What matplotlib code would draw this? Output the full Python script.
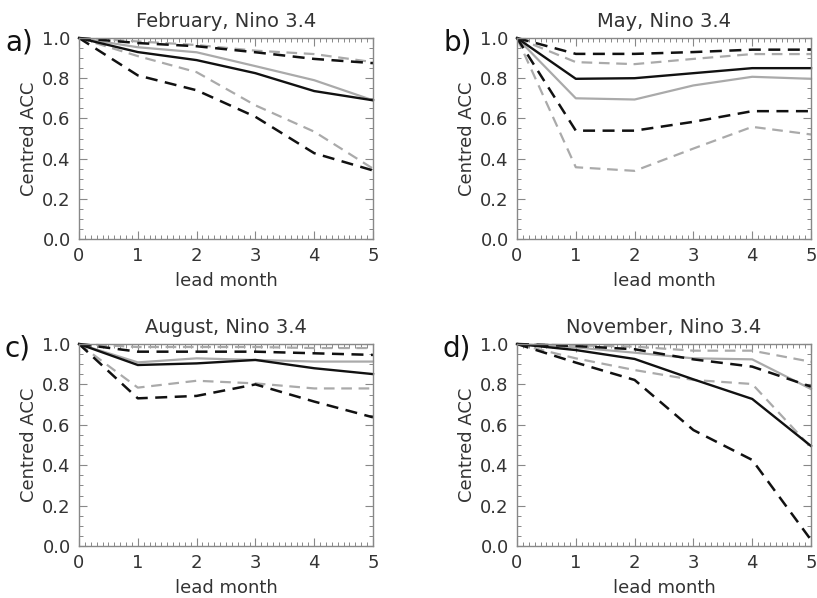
import matplotlib
matplotlib.use("Agg")
import matplotlib.pyplot as plt
from matplotlib.ticker import MultipleLocator

lead = [0, 1, 2, 3, 4, 5]
titles = ["February, Nino 3.4", "May, Nino 3.4", "August, Nino 3.4", "November, Nino 3.4"]
panel_labels = ["a)", "b)", "c)", "d)"]

# February
feb_black = [1.0, 0.93, 0.89, 0.825, 0.736, 0.69]
feb_black_hi = [1.0, 0.975, 0.959, 0.929, 0.896, 0.875]
feb_black_lo = [1.0, 0.814, 0.74, 0.608, 0.427, 0.341]
feb_gray = [1.0, 0.954, 0.929, 0.86, 0.79, 0.69]
feb_gray_hi = [1.0, 0.983, 0.965, 0.937, 0.92, 0.88]
feb_gray_lo = [1.0, 0.91, 0.83, 0.665, 0.534, 0.35]

# May
may_black = [1.0, 0.797, 0.80, 0.825, 0.85, 0.85]
may_black_hi = [1.0, 0.921, 0.921, 0.93, 0.942, 0.942]
may_black_lo = [1.0, 0.539, 0.539, 0.583, 0.636, 0.636]
may_gray = [1.0, 0.70, 0.694, 0.764, 0.807, 0.797]
may_gray_hi = [1.0, 0.88, 0.87, 0.896, 0.92, 0.92]
may_gray_lo = [1.0, 0.357, 0.339, 0.45, 0.558, 0.52]

# August
aug_black = [1.0, 0.896, 0.904, 0.921, 0.88, 0.851]
aug_black_hi = [1.0, 0.962, 0.962, 0.962, 0.954, 0.946]
aug_black_lo = [1.0, 0.731, 0.743, 0.80, 0.715, 0.637]
aug_gray = [1.0, 0.909, 0.929, 0.921, 0.913, 0.913]
aug_gray_hi = [1.0, 0.985, 0.985, 0.985, 0.98, 0.98]
aug_gray_lo = [1.0, 0.784, 0.818, 0.805, 0.78, 0.78]

# November
nov_black = [1.0, 0.97, 0.926, 0.825, 0.728, 0.495]
nov_black_hi = [1.0, 0.99, 0.974, 0.924, 0.888, 0.789]
nov_black_lo = [1.0, 0.908, 0.822, 0.574, 0.426, 0.03]
nov_gray = [1.0, 0.983, 0.957, 0.929, 0.924, 0.777]
nov_gray_hi = [1.0, 0.993, 0.987, 0.967, 0.967, 0.912]
nov_gray_lo = [1.0, 0.929, 0.871, 0.822, 0.802, 0.488]

panels = [
    (feb_black, feb_black_hi, feb_black_lo, feb_gray, feb_gray_hi, feb_gray_lo),
    (may_black, may_black_hi, may_black_lo, may_gray, may_gray_hi, may_gray_lo),
    (aug_black, aug_black_hi, aug_black_lo, aug_gray, aug_gray_hi, aug_gray_lo),
    (nov_black, nov_black_hi, nov_black_lo, nov_gray, nov_gray_hi, nov_gray_lo),
]

plt.rcParams['font.family'] = ['DejaVu Sans']
W, H = 817, 598
fig = plt.figure(figsize=(W / 100, H / 100), dpi=100)

text_col = "#333333"
frame_col = "#888888"
gray = "#aaaaaa"
black = "#111111"

# axes boxes in pixels: (left, top, right, bottom)
boxes = [(79, 38, 373, 239), (517, 38, 811, 239), (79, 344, 373, 546), (517, 344, 811, 546)]

for i, (box, data) in enumerate(zip(boxes, panels)):
    l, t, r, b = box
    ax = fig.add_axes([l / W, 1 - b / H, (r - l) / W, (b - t) / H])
    bk, bk_hi, bk_lo, gr, gr_hi, gr_lo = data
    dash = (0, (4.8, 3.0))
    ax.plot(lead, gr_hi, color=gray, lw=1.6, linestyle=dash, clip_on=False)
    ax.plot(lead, gr_lo, color=gray, lw=1.6, linestyle=dash, clip_on=False)
    ax.plot(lead, gr, color=gray, lw=1.6, clip_on=False)
    ax.plot(lead, bk_hi, color=black, lw=1.8, linestyle=dash, clip_on=False)
    ax.plot(lead, bk_lo, color=black, lw=1.8, linestyle=dash, clip_on=False)
    ax.plot(lead, bk, color=black, lw=1.7, clip_on=False)

    ax.set_xlim(0, 5)
    ax.set_ylim(0, 1.0)
    ax.xaxis.set_major_locator(MultipleLocator(1))
    ax.xaxis.set_minor_locator(MultipleLocator(0.1))
    ax.yaxis.set_major_locator(MultipleLocator(0.2))
    ax.yaxis.set_minor_locator(MultipleLocator(0.05))
    ax.yaxis.set_major_formatter(plt.FuncFormatter(lambda v, p: f"{v:.1f}"))
    ax.tick_params(which='both', direction='in', top=True, right=True, color=frame_col,
                   labelcolor=text_col)
    ax.tick_params(which='major', length=6, width=0.8, labelsize=13, pad=6)
    ax.tick_params(which='minor', length=3, width=0.7)
    for s in ax.spines.values():
        s.set_color(frame_col)
        s.set_linewidth(1.0)
    ax.set_title(titles[i], fontsize=14, color=text_col, pad=8)
    ax.set_xlabel("lead month", fontsize=13, color=text_col, labelpad=5)
    ax.set_ylabel("Centred ACC", fontsize=13, color=text_col, labelpad=3)
    ax.text((l - 74) / W, 1 - (t + 5) / H, panel_labels[i], transform=fig.transFigure,
            fontsize=20, color="#111111", ha='left', va='center')

fig.savefig("out.png", dpi=100)
